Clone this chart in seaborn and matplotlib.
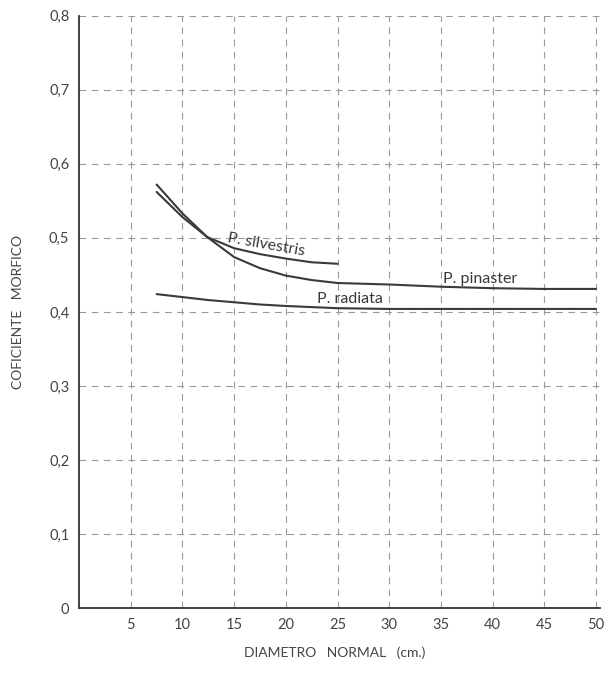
import numpy as np
import pandas as pd
import matplotlib
matplotlib.use("Agg")
import matplotlib.pyplot as plt
import seaborn as sns

sns.set_theme(style="white")
plt.rcParams["font.family"] = ["Lato", "DejaVu Sans"]

# ── data ────────────────────────────────────────────────────────────
silv_x = [7.5, 10, 12.4, 15, 17.5, 20, 22.5, 25]
silv_y = [0.562, 0.528, 0.501, 0.486, 0.478, 0.472, 0.467, 0.465]

pina_x = [7.5, 10, 12.4, 15, 17.5, 20, 22.5, 25, 30, 35, 40, 45, 50]
pina_y = [0.572, 0.533, 0.501, 0.474, 0.459, 0.449, 0.443, 0.439, 0.437, 0.434, 0.432, 0.431, 0.431]

radi_x = [7.5, 10, 12.5, 15, 17.5, 20, 25, 30, 35, 40, 45, 50]
radi_y = [0.424, 0.420, 0.416, 0.413, 0.410, 0.408, 0.405, 0.404, 0.404, 0.404, 0.404, 0.404]

x_ticks = [5, 10, 15, 20, 25, 30, 35, 40, 45, 50]
y_ticks = [0, 0.1, 0.2, 0.3, 0.4, 0.5, 0.6, 0.7, 0.8]
y_labels = ["0", "0,1", "0,2", "0,3", "0,4", "0,5", "0,6", "0,7", "0,8"]

df = pd.concat([
    pd.DataFrame({"d": silv_x, "c": silv_y, "sp": "P. silvestris"}),
    pd.DataFrame({"d": pina_x, "c": pina_y, "sp": "P. pinaster"}),
    pd.DataFrame({"d": radi_x, "c": radi_y, "sp": "P. radiata"}),
])

# ── plot ────────────────────────────────────────────────────────────
fig = plt.figure(figsize=(6.13, 6.81), dpi=100)
ax = fig.add_axes([0.129, 0.107, 0.85, 0.87])

ink = "#3a3a3a"
for sp, g in df.groupby("sp"):
    sns.lineplot(data=g, x="d", y="c", ax=ax, color=ink, linewidth=1.5,
                 estimator=None, sort=True)

ax.set_xlim(0, 50.4)
ax.set_ylim(0, 0.8)
ax.set_xticks(x_ticks)
ax.set_yticks(y_ticks)
ax.set_yticklabels(y_labels)
ax.tick_params(length=0, labelsize=10.5, colors="#444444", pad=7)

ax.grid(True, color="#9a9a9a", linestyle=(0, (6, 5)), linewidth=0.8)
for s in ["top", "right"]:
    ax.spines[s].set_visible(False)
for s in ["left", "bottom"]:
    ax.spines[s].set_color("#333333")
    ax.spines[s].set_linewidth(1.3)

ax.set_xlabel("DIAMETRO   NORMAL   (cm.)", fontsize=10, color="#444444")
ax.set_ylabel("COFICIENTE   MORFICO", fontsize=10, color="#444444")
ax.xaxis.set_label_coords(0.49, -0.065)
ax.yaxis.set_label_coords(-0.105, 0.5)

ax.text(18.1, 0.491, "P. silvestris", fontsize=11.5, color=ink,
        rotation=-10, ha="center", va="center")
ax.text(38.8, 0.445, "P. pinaster", fontsize=11.5, color=ink,
        ha="center", va="center")
ax.text(26.2, 0.417, "P. radiata", fontsize=11.5, color=ink,
        ha="center", va="center")

fig.savefig("out.png", dpi=100)
